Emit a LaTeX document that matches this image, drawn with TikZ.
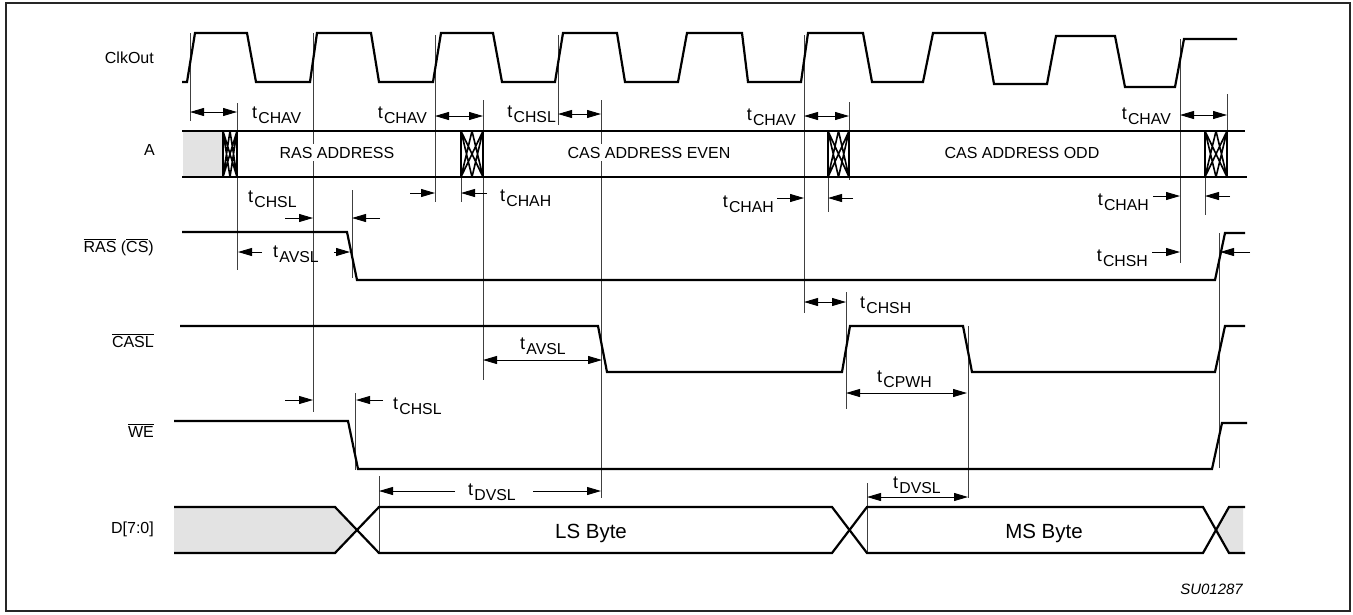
\documentclass[tikz,border=0pt]{standalone}
\usepackage{fontspec}
\setmainfont{Liberation Sans}
\usetikzlibrary{arrows.meta}
\newcommand{\tsub}[1]{{\fontsize{18}{20}\selectfont t}\kern1.2pt\raisebox{-5pt}{\fontsize{15.8}{17}\selectfont #1}}
\newcommand{\ovl}[1]{$\overline{\mbox{#1}}$}
\newcommand{\xhatchA}[2]{%
  \draw[hatch] (#1,131) -- (#2,177) (#2,131) -- (#1,177)
    (#1,131) -- ({(#1+#2)/2},177) ({(#1+#2)/2},131) -- (#1,177)
    ({(#1+#2)/2},131) -- (#2,177) (#2,131) -- ({(#1+#2)/2},177);
  \draw[line width=1.4pt] (#1,131) -- (#1,177) (#2,131) -- (#2,177);}
\begin{document}
\begin{tikzpicture}[x=1pt,y=-1pt,
  sig/.style={line width=2.2pt},
  refl/.style={line width=0.9pt,black!75},
  hatch/.style={line width=1.6pt},
  dimb/.style={line width=0.9pt,{Triangle[length=14pt,width=8pt]}-{Triangle[length=14pt,width=8pt]}},
  dimr/.style={line width=0.9pt,-{Triangle[length=14pt,width=8pt]}},
  tl/.style={inner sep=0pt},
  sl/.style={inner sep=0pt, anchor=base east, font=\fontsize{16}{18}\selectfont},
  bl/.style={inner ysep=3pt, inner xsep=2pt, fill=white, anchor=base, font=\fontsize{16}{18}\selectfont},
]
\useasboundingbox (0,0) rectangle (1353,614);
\fill[white] (0,0) rectangle (1353,614);
\draw[line width=2pt,black!85] (6,3) rectangle (1350,611);

% signal labels
\node[sl] (lclk) at (154,63) {ClkOut};
\node[sl] (la) at (155,155) {A};
\node[sl] (lras) at (154,252) {\ovl{RAS} (\ovl{CS})};
\node[sl] (lcas) at (154,347) {\ovl{CASL}};
\node[sl] (lwe) at (154,437) {\ovl{WE}};
\node[sl] (ld) at (154,533) {D[7:0]};

% gray fills
\fill[gray!22] (183,131) rectangle (223,177);
\fill[gray!22] (174,507) -- (335,507) -- (357,530) -- (335,553) -- (174,553) -- cycle;
\fill[gray!22] (1216,530) -- (1229,507) -- (1243,507) -- (1243,553) -- (1229,553) -- cycle;

% reference lines
\draw[refl] (190,33) -- (190,121);
\draw[refl] (237,103) -- (237,270);
\draw[refl] (313,33) -- (313,412);
\draw[refl] (352,190) -- (352,278);
\draw[refl] (355,393) -- (355,470);
\draw[refl] (379,476) -- (379,553);
\draw[refl] (435,35) -- (435,202);
\draw[refl] (461,177) -- (461,202);
\draw[refl] (483,100) -- (483,380);
\draw[refl] (558,35) -- (558,125);
\draw[refl] (601,100) -- (601,498);
\draw[refl] (804,35) -- (804,313);
\draw[refl] (828,177) -- (828,212);
\draw[refl] (846,292) -- (846,409);
\draw[refl] (849,102) -- (849,180);
\draw[refl] (867,483) -- (867,553);
\draw[refl] (968,326) -- (968,498);
\draw[refl] (1180,39) -- (1180,263);
\draw[refl] (1205,177) -- (1205,215);
\draw[refl] (1219,233) -- (1219,468);
\draw[refl] (1227,94) -- (1227,177);

% ClkOut
\draw[sig] (182,82) -- (187,82) -- (195,33) -- (247,33) -- (256,82) -- (310,82) -- (317,33)
  -- (371,33) -- (379,82) -- (433,82) -- (441,33) -- (493,33) -- (502,82) -- (555,82)
  -- (563,33) -- (617,33) -- (625,82) -- (678,82) -- (687,33) -- (742,33) -- (748,82)
  -- (801,82) -- (808,33) -- (863,33) -- (872,82) -- (923,82) -- (933,33) -- (985,33)
  -- (994,84) -- (1047,84) -- (1056,36) -- (1115,36) -- (1125,87) -- (1175,87)
  -- (1184,39) -- (1237,39);

% A bus
\draw[sig] (182,131) -- (1245,131);
\draw[sig] (182,177) -- (1247,177);
\xhatchA{223}{237}
\xhatchA{461}{483}
\xhatchA{828}{849}
\xhatchA{1205}{1227}
\node[bl] (ras) at (337,158) {RAS ADDRESS};
\node[bl] (cse) at (649,158) {CAS ADDRESS EVEN};
\node[bl] (cso) at (1022,158) {CAS ADDRESS ODD};

% RAS
\draw[sig] (182,232) -- (347,232) -- (357,280) -- (1215,280) -- (1225,233) -- (1245,233);
% CASL
\draw[sig] (180,326) -- (598,326) -- (607,372) -- (842,372) -- (850,326) -- (963,326)
  -- (972,372) -- (1215,372) -- (1225,326) -- (1245,326);
% WE
\draw[sig] (174,421) -- (348,421) -- (358,469) -- (1212,469) -- (1222,423) -- (1247,423);
% D bus
\draw[sig] (174,507) -- (335,507) -- (379,553) -- (832,553) -- (867,507) -- (1203,507) -- (1229,553) -- (1245,553);
\draw[sig] (174,553) -- (335,553) -- (379,507) -- (832,507) -- (867,553) -- (1203,553) -- (1229,507) -- (1245,507);
\node[inner sep=0pt, anchor=base, font=\fontsize{20.5}{22}\selectfont] (lsb) at (591,538) {LS Byte};
\node[inner sep=0pt, anchor=base, font=\fontsize{20.5}{22}\selectfont] (msb) at (1044,538) {MS Byte};

% dimension arrows
\draw[dimb] (190,112) -- (237,112);
\node[tl, anchor=base west] (t1) at (252,118) {\tsub{CHAV}};
\draw[dimb] (435,116) -- (483,116);
\node[tl, anchor=base east] (t2) at (427,118) {\tsub{CHAV}};
\draw[dimb] (558,114) -- (601,114);
\node[tl, anchor=base east] (t3) at (556,117) {\tsub{CHSL}};
\draw[dimb] (804,116) -- (849,116);
\node[tl, anchor=base east] (t4) at (796,120) {\tsub{CHAV}};
\draw[dimb] (1180,115) -- (1227,115);
\node[tl, anchor=base east] (t5) at (1171,119) {\tsub{CHAV}};

\draw[dimr] (410,193) -- (435,193);
\draw[dimr] (487,193) -- (461,193);
\node[tl, anchor=base west] (t6) at (500,201) {\tsub{CHAH}};
\draw[dimr] (777,198) -- (804,198);
\draw[dimr] (853,198) -- (828,198);
\node[tl, anchor=base east] (t7) at (774,207) {\tsub{CHAH}};
\draw[dimr] (1153,196) -- (1180,196);
\draw[dimr] (1230,196) -- (1205,196);
\node[tl, anchor=base east] (t8) at (1149,205) {\tsub{CHAH}};

\draw[dimr] (285,218) -- (313,218);
\draw[dimr] (380,218) -- (352,218);
\node[tl, anchor=base west] (t9) at (248,202) {\tsub{CHSL}};
\draw[dimr] (262,252) -- (238,252);
\draw[dimr] (334,252) -- (350,252);
\node[tl, anchor=base west] (t10) at (273,257) {\tsub{AVSL}};
\draw[dimr] (1152,252) -- (1180,252);
\draw[dimr] (1250,252) -- (1220,252);
\node[tl, anchor=base east] (t11) at (1148,261) {\tsub{CHSH}};

\draw[dimb] (804,302) -- (846,302);
\node[tl, anchor=base west] (t12) at (860,308) {\tsub{CHSH}};
\draw[dimb] (483,360) -- (602,360);
\node[tl, anchor=base west] (t13) at (520,349) {\tsub{AVSL}};
\draw[dimb] (846,393) -- (967,393);
\node[tl, anchor=base west] (t14) at (877,382) {\tsub{CPWH}};
\draw[dimr] (285,400) -- (313,400);
\draw[dimr] (383,400) -- (356,400);
\node[tl, anchor=base west] (t15) at (393,409) {\tsub{CHSL}};

\draw[dimr] (455,491) -- (379,491);
\draw[dimr] (533,491) -- (601,491);
\node[tl, anchor=base west] (t16) at (468,495) {\tsub{DVSL}};
\draw[dimb] (867,497) -- (968,497);
\node[tl, anchor=base west] (t17) at (893,488) {\tsub{DVSL}};

\node[inner sep=0pt, anchor=base east, font=\fontsize{15}{17}\selectfont\itshape] (code) at (1243,594) {SU01287};
\end{tikzpicture}
\end{document}
